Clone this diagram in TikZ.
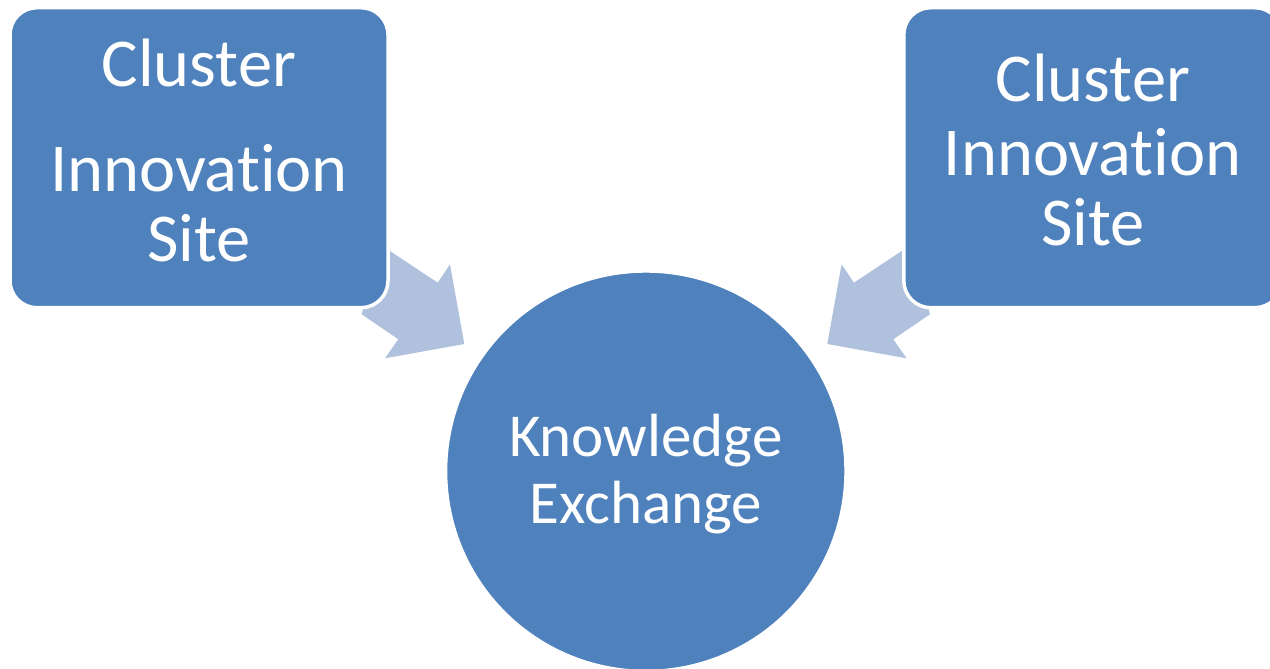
\documentclass[tikz,border=0pt]{standalone}
\usepackage{fontspec}
\setmainfont{Carlito}[Ligatures=CommonOff]
\definecolor{boxblue}{HTML}{4F81BD}
\definecolor{arrowblue}{HTML}{B0C1DD}
\tikzset{
  sitebox/.style={rectangle, rounded corners=27pt, fill=boxblue, draw=white, line width=3.5pt, minimum width=378pt, minimum height=300pt, inner sep=0pt},
  sitetext/.style={text=white, align=center, font=\fontsize{68.5}{69.2}\selectfont},
  hubcircle/.style={circle, fill=boxblue, draw=white, line width=2pt, minimum size=399pt, inner sep=0pt},
  hubtext/.style={text=white, align=center, font=\fontsize{61}{66.7}\selectfont},
  flowarrow/.style={fill=arrowblue}
}
\begin{document}
\begin{tikzpicture}[x=1pt,y=-1pt]
  \useasboundingbox (0,0) rectangle (1270,669);
  \clip (0,0) rectangle (1270,669);
  \fill[flowarrow] (380,244.4) -- (437.7,282.7) -- (450,264.3) -- (464.3,344) -- (385,358.3) -- (398.3,339.3) -- (361.7,314.3) -- cycle;
  \fill[flowarrow] (911.6,244.4) -- (853.9,282.7) -- (841.6,264.3) -- (827.3,344) -- (906.6,358.3) -- (893.3,339.3) -- (929.9,314.3) -- cycle;
  \node[sitebox] (siteL) at (199,157.7) {};
  \node[sitebox] (siteR) at (1092.8,157.7) {};
  \node[sitetext] (siteLtext) at ([yshift=7.5pt]siteL.center) {Cluster\\[36.2pt]Innovation\\Site};
  \node[sitetext] (siteRtext) at ([yshift=8pt]siteR.center) {Cluster\\[5.4pt]Innovation\\Site};
  \node[hubcircle] (hub) at (645.8,471.2) {};
  \node[hubtext] (hubtext) at ([yshift=-2.6pt]hub.center) {Knowledge\\Exchange};
\end{tikzpicture}
\end{document}
